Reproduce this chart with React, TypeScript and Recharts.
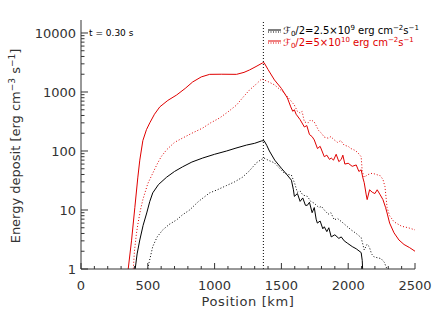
import React from "react";
import {
  LineChart,
  Line,
  XAxis,
  YAxis,
  ReferenceLine,
} from "recharts";

// black = F0/2 = 2.5e9, red = F0/2 = 5e10 ; solid / dotted pairs
const blackSolidPos = [403, 420, 440, 465, 492, 515, 537, 580, 641, 700, 761, 830, 911, 1000, 1090, 1160, 1239, 1300, 1351, 1370, 1390, 1410, 1450, 1500, 1540, 1575, 1590, 1597, 1620, 1640, 1660, 1680, 1694, 1710, 1730, 1746, 1760, 1769, 1790, 1810, 1821, 1840, 1855, 1873, 1900, 1930, 1948, 1970, 1993, 2030, 2060, 2097, 2105, 2110];
const blackSolidVal = [0.9, 1.8, 3.1, 5.5, 8.9, 14, 19.5, 27, 36, 45, 54, 65, 76, 88, 100, 112, 126, 135, 148, 150, 125, 100, 70, 51, 40, 32, 22, 17, 19, 14, 16, 12, 12, 13.5, 9, 11, 7, 6, 6.5, 4.8, 5.2, 4.3, 5.0, 3.5, 3.8, 3.3, 3.5, 3.0, 2.75, 2.4, 2.2, 1.9, 1.4, 0.8];

const blackDotPos = [492, 510, 537, 570, 612, 660, 716, 760, 813, 880, 963, 1020, 1090, 1150, 1209, 1260, 1313, 1351, 1370, 1400, 1448, 1490, 1522, 1550, 1575, 1600, 1619, 1640, 1660, 1694, 1720, 1746, 1780, 1800, 1821, 1850, 1870, 1896, 1920, 1955, 1990, 2022, 2060, 2097, 2110, 2120, 2140, 2157, 2175, 2194, 2220, 2246, 2270, 2290, 2300];
const blackDotVal = [0.8, 1.3, 2.4, 3.5, 4.6, 5.7, 6.8, 8.3, 10, 14, 19.5, 22, 26, 30, 36, 46, 63, 72, 76, 70, 63, 50, 42, 40, 39, 28, 20, 21, 18, 17, 14, 13, 11, 11.5, 10, 8.5, 9, 6.8, 7.2, 6.2, 5.3, 4.6, 4.0, 3.4, 2.6, 2.1, 2.6, 2.4, 1.8, 1.6, 1.55, 1.5, 1.3, 1.0, 0.8];

const redSolidPos = [351, 378, 403, 425, 440, 463, 490, 515, 550, 590, 650, 716, 780, 836, 900, 963, 1050, 1164, 1220, 1261, 1310, 1358, 1370, 1400, 1448, 1500, 1545, 1570, 1585, 1597, 1610, 1640, 1672, 1690, 1710, 1730, 1746, 1770, 1790, 1821, 1840, 1860, 1873, 1890, 1910, 1930, 1948, 1960, 1975, 2000, 2030, 2060, 2080, 2097, 2110, 2120, 2135, 2142, 2160, 2180, 2200, 2217, 2240, 2260, 2280, 2291, 2310, 2343, 2380, 2418, 2460, 2500];
const redSolidVal = [0.9, 3, 11, 35, 70, 150, 230, 300, 420, 560, 720, 890, 1150, 1480, 1800, 1990, 2000, 1990, 2150, 2360, 2700, 3100, 3150, 2400, 1600, 1150, 790, 560, 470, 500, 420, 340, 255, 270, 190, 175, 154, 110, 120, 80, 85, 72, 76, 70, 88, 66, 72, 85, 60, 62, 55, 58, 45, 48, 35, 29, 18, 15, 22, 20, 19, 22, 18, 15, 11, 8.9, 6, 4.1, 3.1, 2.6, 2.3, 2.0];

const redDotPos = [390, 400, 415, 427, 445, 463, 500, 537, 570, 600, 641, 700, 761, 830, 911, 970, 1037, 1100, 1164, 1210, 1261, 1310, 1351, 1370, 1400, 1448, 1490, 1522, 1560, 1597, 1620, 1640, 1655, 1672, 1700, 1720, 1746, 1780, 1800, 1821, 1850, 1870, 1896, 1920, 1945, 1970, 2000, 2020, 2045, 2070, 2097, 2105, 2120, 2150, 2180, 2210, 2240, 2260, 2275, 2291, 2310, 2343, 2400, 2450, 2500];
const redDotVal = [0.9, 2.0, 4, 6, 10, 15, 28, 42, 60, 80, 105, 140, 166, 200, 245, 300, 362, 460, 600, 800, 1080, 1350, 1660, 1600, 1500, 1320, 1100, 960, 760, 600, 470, 440, 470, 310, 300, 340, 310, 220, 200, 172, 165, 175, 154, 140, 150, 125, 120, 110, 104, 95, 80, 45, 36, 40, 42, 40, 38, 33, 25, 11, 8, 6.3, 5.3, 5, 4.6];

const xTicks = [0, 100, 200, 300, 400, 500, 600, 700, 800, 900, 1000, 1100, 1200, 1300, 1400, 1500, 1600, 1700, 1800, 1900, 2000, 2100, 2200, 2300, 2400, 2500];
const yTicks = [1, 2, 3, 4, 5, 6, 7, 8, 9, 10, 20, 30, 40, 50, 60, 70, 80, 90, 100, 200, 300, 400, 500, 600, 700, 800, 900, 1000, 2000, 3000, 4000, 5000, 6000, 7000, 8000, 9000, 10000];
const yMajor = [1, 10, 100, 1000, 10000];

const zip = (p: number[], v: number[]) => p.map((x, i) => ({ x, y: v[i] }));

const AX = "#333";
const FONT = "DejaVu Sans";

function XTick(props: any) {
  const { x, y, payload, top } = props;
  const v = payload.value;
  const major = v % 500 === 0;
  const len = major ? 6 : 3;
  return (
    <g>
      <line x1={x} x2={x} y1={y} y2={top ? y + len : y - len} stroke={AX} />
      {!top && major && (
        <text x={x} y={y + 21} textAnchor="middle" fontSize={13} fontFamily={FONT} fill={AX}>
          {v}
        </text>
      )}
    </g>
  );
}

function YTick(props: any) {
  const { x, y, payload, right } = props;
  const v = payload.value;
  const major = yMajor.includes(v);
  const len = major ? 7 : 3.5;
  return (
    <g>
      <line x1={x} x2={right ? x - len : x + len} y1={y} y2={y} stroke={AX} />
      {!right && major && (
        <text x={x - 5} y={y + 5} textAnchor="end" fontSize={13} fontFamily={FONT} fill={AX}>
          {v}
        </text>
      )}
    </g>
  );
}

export default function App() {
  return (
    <div style={{ position: "absolute", left: 0, top: 0, width: 436, height: 312, background: "#fff" }}>
      <LineChart width={436} height={312} margin={{ top: 20, right: 21, left: 0, bottom: 0 }}>
        <XAxis
          xAxisId="b"
          type="number"
          dataKey="x"
          domain={[0, 2500]}
          ticks={xTicks}
          interval={0}
          allowDataOverflow
          height={43}
          tickSize={0}
          tickMargin={0}
          stroke={AX}
          tick={<XTick />}
        />
        <XAxis
          xAxisId="t"
          orientation="top"
          type="number"
          dataKey="x"
          domain={[0, 2500]}
          ticks={xTicks}
          interval={0}
          height={0}
          tickSize={0}
          tickMargin={0}
          stroke={AX}
          tick={<XTick top />}
        />
        <YAxis
          yAxisId="l"
          type="number"
          scale="log"
          domain={[1, 16600]}
          ticks={yTicks}
          interval={0}
          allowDataOverflow
          width={81}
          tickSize={0}
          tickMargin={0}
          stroke={AX}
          tick={<YTick />}
        />
        <YAxis
          yAxisId="r"
          orientation="right"
          type="number"
          scale="log"
          domain={[1, 16600]}
          ticks={yTicks}
          interval={0}
          allowDataOverflow
          width={0}
          tickSize={0}
          tickMargin={0}
          stroke={AX}
          tick={<YTick right />}
        />
        <ReferenceLine xAxisId="b" yAxisId="l" x={1365} stroke="#000" strokeDasharray="1 2" />
        <Line xAxisId="b" yAxisId="l" data={zip(blackSolidPos, blackSolidVal)} dataKey="y" stroke="#000" strokeWidth={1} dot={false} isAnimationActive={false} />
        <Line xAxisId="b" yAxisId="l" data={zip(blackDotPos, blackDotVal)} dataKey="y" stroke="#000" strokeWidth={1} strokeDasharray="1 2" dot={false} isAnimationActive={false} />
        <Line xAxisId="b" yAxisId="l" data={zip(redSolidPos, redSolidVal)} dataKey="y" stroke="#e00000" strokeWidth={1} dot={false} isAnimationActive={false} />
        <Line xAxisId="b" yAxisId="l" data={zip(redDotPos, redDotVal)} dataKey="y" stroke="#e00000" strokeWidth={1} strokeDasharray="1 2" dot={false} isAnimationActive={false} />
      </LineChart>
      <svg width={436} height={312} style={{ position: "absolute", left: 0, top: 0, pointerEvents: "none" }} fontFamily={FONT}>
        <text x={89} y={36} fontSize={9} fill="#000">t = 0.30 s</text>
        <text transform="translate(20,146) rotate(-90)" textAnchor="middle" fontSize={13} fill={AX}>
          Energy deposit [erg cm<tspan dy={-5} fontSize={9}>−3</tspan>
          <tspan dy={5}> s</tspan>
          <tspan dy={-5} fontSize={9}>−1</tspan>
          <tspan dy={5}>]</tspan>
        </text>
        <text x={248} y={306} textAnchor="middle" fontSize={13} letterSpacing={0.6} fill={AX}>Position [km]</text>
        <line x1={268} x2={281} y1={30} y2={30} stroke="#000" />
        <line x1={268} x2={281} y1={32} y2={32} stroke="#000" strokeDasharray="1 1.5" />
        <text x={283} y={34} fontSize={10} fill="#000">
          ℱ<tspan dy={2} fontSize={7}>0</tspan>
          <tspan dy={-2}>/2=2.5×10</tspan>
          <tspan dy={-4} fontSize={7}>9</tspan>
          <tspan dy={4}> erg cm</tspan>
          <tspan dy={-4} fontSize={7}>−2</tspan>
          <tspan dy={4}>s</tspan>
          <tspan dy={-4} fontSize={7}>−1</tspan>
        </text>
        <line x1={268} x2={281} y1={41} y2={41} stroke="#e00000" />
        <line x1={268} x2={281} y1={43} y2={43} stroke="#e00000" strokeDasharray="1 1.5" />
        <text x={283} y={46} fontSize={10} fill="#e00000">
          ℱ<tspan dy={2} fontSize={7}>0</tspan>
          <tspan dy={-2}>/2=5×10</tspan>
          <tspan dy={-4} fontSize={7}>10</tspan>
          <tspan dy={4}> erg cm</tspan>
          <tspan dy={-4} fontSize={7}>−2</tspan>
          <tspan dy={4}>s</tspan>
          <tspan dy={-4} fontSize={7}>−1</tspan>
        </text>
      </svg>
    </div>
  );
}
